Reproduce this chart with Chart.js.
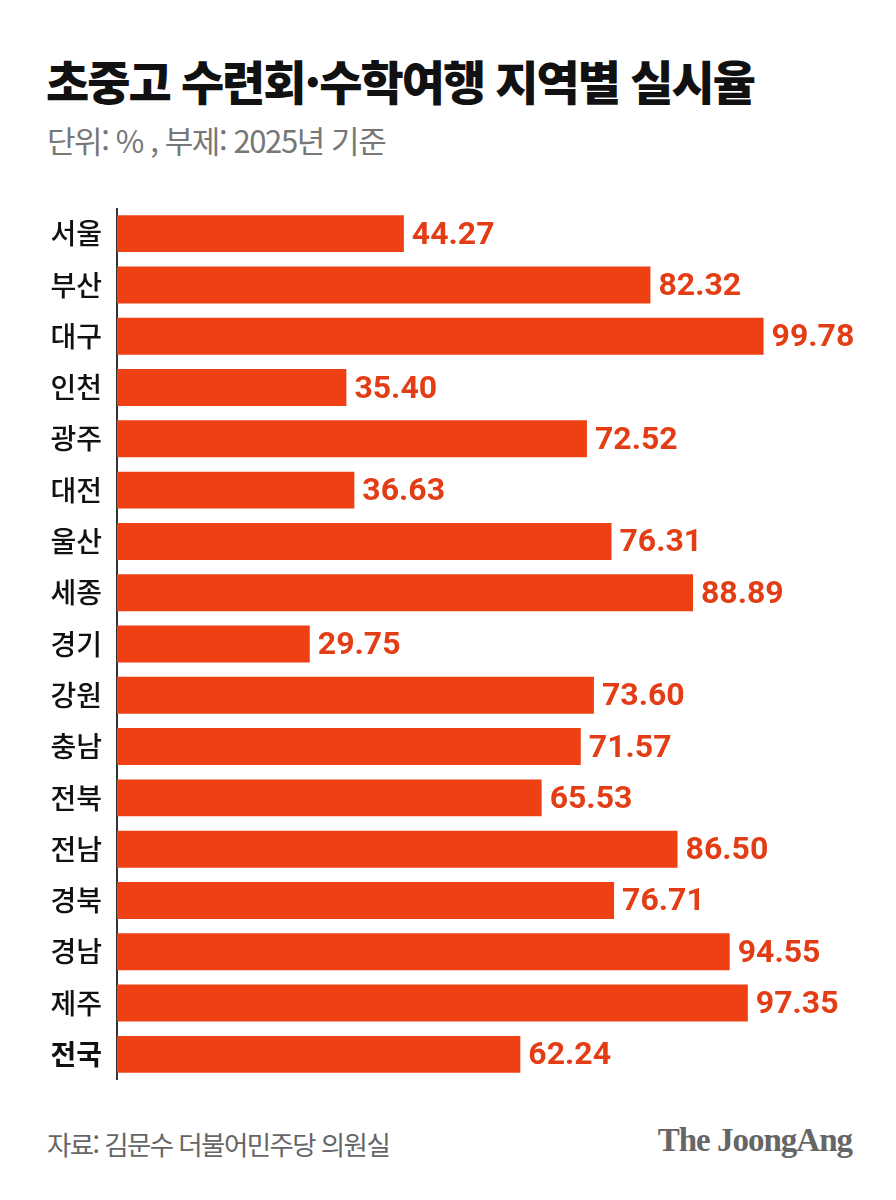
<!DOCTYPE html>
<html lang="ko">
<head>
<meta charset="utf-8">
<script src="https://cdn.jsdelivr.net/npm/chart.js@4/dist/chart.umd.min.js"></script>
<style>
  html, body { margin: 0; padding: 0; background: #fff; }
  body { width: 896px; height: 1200px; position: relative; overflow: hidden; font-family: "Noto Sans CJK KR", "Noto Sans", sans-serif; }
  #title { position: absolute; left: 46px; top: 45px; font-size: 47px; font-weight: 900; color: #111; letter-spacing: -2px; margin: 0; }
  #subtitle { position: absolute; left: 47px; top: 117px; font-size: 31px; color: #777; letter-spacing: -1.4px; }
  #chart-box { position: absolute; left: 0; top: 208px; width: 896px; height: 872px; }
  #source { position: absolute; left: 47px; top: 1124px; font-size: 26.5px; color: #666; letter-spacing: -1.6px; }
  #logo { position: absolute; right: 44px; top: 1122px; font-family: "Liberation Serif", "DejaVu Serif", serif; font-weight: bold; font-size: 33px; color: #666; letter-spacing: -1px; }
</style>
</head>
<body>
<h1 id="title">초중고 수련회·수학여행 지역별 실시율</h1>
<div id="subtitle">단위: % , 부제: 2025년 기준</div>
<div id="chart-box"><canvas id="rateChart"></canvas></div>
<div id="source">자료: 김문수 더불어민주당 의원실</div>
<div id="logo">The JoongAng</div>

<script>
const regions = ["서울", "부산", "대구", "인천", "광주", "대전", "울산", "세종", "경기", "강원", "충남", "전북", "전남", "경북", "경남", "제주", "전국"];
const rates = [44.27, 82.32, 99.78, 35.40, 72.52, 36.63, 76.31, 88.89, 29.75, 73.60, 71.57, 65.53, 86.50, 76.71, 94.55, 97.35, 62.24];

const barColor = "#ee4012";
const labelColor = "#e33d15";

// draw the value text right after each bar
const valueLabels = {
    id: "valueLabels",
    afterDatasetsDraw(chart) {
        const ctx = chart.ctx;
        const meta = chart.getDatasetMeta(0);
        ctx.save();
        ctx.font = "bold 32px Roboto, 'Liberation Sans', sans-serif";
        ctx.fillStyle = labelColor;
        ctx.textAlign = "left";
        ctx.textBaseline = "middle";
        meta.data.forEach((bar, i) => {
            ctx.fillText(rates[i].toFixed(2), bar.x + 8, bar.y + 2);
        });
        ctx.restore();
    }
};

const ctx = document.getElementById("rateChart").getContext("2d");
new Chart(ctx, {
    type: "bar",
    data: {
        labels: regions,
        datasets: [{
            data: rates,
            backgroundColor: barColor,
            borderWidth: 0,
            barPercentage: 0.72,
            categoryPercentage: 1.0
        }]
    },
    options: {
        indexAxis: "y",
        responsive: true,
        maintainAspectRatio: false,
        animation: false,
        layout: { padding: { left: 0, right: 131, top: 0, bottom: 0 } },
        plugins: {
            legend: { display: false },
            tooltip: { enabled: false }
        },
        scales: {
            x: {
                display: false,
                min: 0,
                max: 100
            },
            y: {
                afterFit(axis) {
                    axis.width = 117;
                    axis.paddingTop = 0;
                    axis.paddingBottom = 0;
                },
                grid: { display: false, drawTicks: false },
                border: { display: true, color: "#333", width: 2 },
                ticks: {
                    padding: 15,
                    color: "#111",
                    font: (c) => ({
                        family: "'Noto Sans CJK KR', sans-serif",
                        size: 28,
                        weight: c.index === regions.length - 1 ? "bold" : "500"
                    })
                }
            }
        }
    },
    plugins: [valueLabels]
});
</script>
</body>
</html>
